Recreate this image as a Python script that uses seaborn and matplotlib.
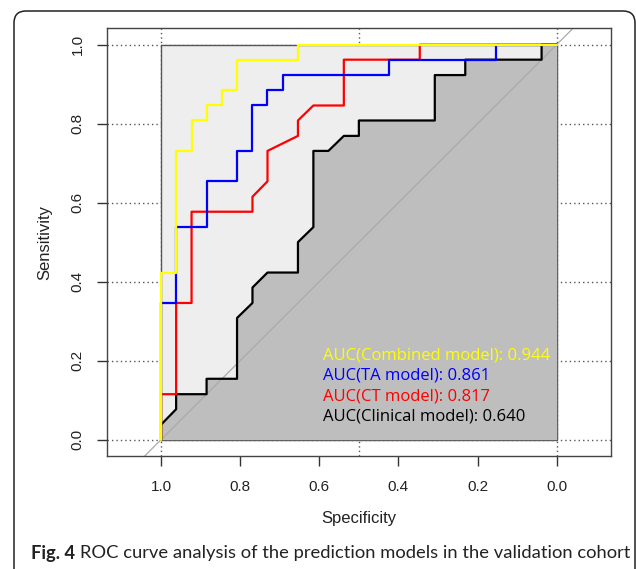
import matplotlib
matplotlib.use('Agg')
import matplotlib.pyplot as plt
import seaborn as sns
import pandas as pd
from matplotlib.patches import FancyBboxPatch
from matplotlib.transforms import IdentityTransform

# ROC vertices (specificity, sensitivity)
combined_spec = [1.000, 1.000, 0.962, 0.962, 0.923, 0.923, 0.885, 0.885, 0.846, 0.846,
                 0.808, 0.808, 0.654, 0.654, 0.000]
combined_sens = [0.000, 0.423, 0.423, 0.731, 0.731, 0.808, 0.808, 0.846, 0.846, 0.885,
                 0.885, 0.962, 0.962, 1.000, 1.000]

ta_spec = [1.000, 1.000, 0.962, 0.962, 0.885, 0.885, 0.808, 0.808, 0.769, 0.769,
           0.731, 0.731, 0.692, 0.692, 0.423, 0.423, 0.154, 0.154, 0.000]
ta_sens = [0.000, 0.346, 0.346, 0.538, 0.538, 0.654, 0.654, 0.731, 0.731, 0.846,
           0.846, 0.885, 0.885, 0.923, 0.923, 0.962, 0.962, 1.000, 1.000]

ct_spec = [1.000, 1.000, 0.962, 0.962, 0.923, 0.923, 0.769, 0.769, 0.731, 0.731,
           0.654, 0.654, 0.615, 0.538, 0.538, 0.346, 0.346, 0.000]
ct_sens = [0.000, 0.115, 0.115, 0.346, 0.346, 0.577, 0.577, 0.615, 0.654, 0.731,
           0.769, 0.808, 0.846, 0.846, 0.962, 0.962, 1.000, 1.000]

clin_spec = [1.000, 1.000, 0.962, 0.962, 0.885, 0.885, 0.808, 0.808, 0.769, 0.769,
             0.731, 0.654, 0.654, 0.615, 0.615, 0.577, 0.538, 0.500, 0.500, 0.308,
             0.308, 0.231, 0.231, 0.038, 0.038, 0.000]
clin_sens = [0.000, 0.038, 0.077, 0.115, 0.115, 0.154, 0.154, 0.308, 0.346, 0.385,
             0.423, 0.423, 0.500, 0.538, 0.731, 0.731, 0.769, 0.769, 0.808, 0.808,
             0.923, 0.923, 0.962, 0.962, 1.000, 1.000]

models = ['Combined model', 'TA model', 'CT model', 'Clinical model']
auc_values = [0.944, 0.861, 0.817, 0.640]
colors = ['#FFFF00', '#0000FF', '#FF0000', '#000000']

tick_values = [1.0, 0.8, 0.6, 0.4, 0.2, 0.0]

frames = []
for name, sp, se in zip(models,
                        [combined_spec, ta_spec, ct_spec, clin_spec],
                        [combined_sens, ta_sens, ct_sens, clin_sens]):
    frames.append(pd.DataFrame({'model': name, 'spec': sp, 'sens': se}))
df = pd.concat(frames, ignore_index=True)

sns.set_style('white')
plt.rcParams['font.family'] = ['Liberation Sans', 'DejaVu Sans']

fig = plt.figure(figsize=(6.36, 5.69), dpi=100)
ax = fig.add_axes([0.1678, 0.1986, 0.7929, 0.7517])

# dotted grid (mostly hidden by the polygons)
grid_kw = dict(color='#555555', lw=1, linestyle=(0, (1, 2.2)), zorder=0.5)
for v in tick_values:
    ax.axhline(v, **grid_kw)
for v in [1.0, 0.5, 0.0]:
    ax.axvline(v, **grid_kw)

# max AUC polygon and AUC polygon of the clinical model
ax.fill_between([1, 0], 0, 1, color='#EEEEEE', edgecolor='#555555', lw=1, zorder=0.8)
ax.fill_between(clin_spec, clin_sens, 0, color='#BEBEBE', lw=0, zorder=0.9)

ax.axline((1, 0), (0, 1), color='#AAAAAA', lw=0.9, zorder=1.5)

sns.lineplot(data=df, x='spec', y='sens', hue='model',
             hue_order=models[::-1], palette=dict(zip(models, colors)),
             sort=False, estimator=None, lw=1.6, legend=False, ax=ax, zorder=2)

ax.set_xlim(1.1375, -0.1375)
ax.set_ylim(-0.0415, 1.0415)

ax.set_xticks(tick_values)
ax.set_xticklabels([f'{v:.1f}' for v in tick_values], fontsize=11)
ax.set_yticks(tick_values)
ax.set_yticklabels([f'{v:.1f}' for v in tick_values], fontsize=11,
                   rotation=90, va='center')
ax.tick_params(axis='both', direction='out', length=7, width=1,
               color='#333333', labelcolor='#222222', pad=9)
ax.tick_params(axis='x', pad=10)
ax.tick_params(bottom=True, left=True)

ax.set_xlabel('Specificity', fontsize=12, color='#222222')
ax.set_ylabel('Sensitivity', fontsize=12, color='#222222')
ax.xaxis.set_label_coords(0.5, -0.147)
ax.xaxis.label.set_va('center')
ax.yaxis.set_label_coords(-0.122, 0.5)
ax.yaxis.label.set_va('center')

for s in ax.spines.values():
    s.set_color('#444444')
    s.set_linewidth(1)

# AUC text
for i, (name, auc, c) in enumerate(zip(models, auc_values, colors)):
    ax.text(0.59, 0.213 - i * 0.0514, f'AUC({name}): {auc:.3f}', color=c,
            fontsize=12, family=['Open Sans', 'DejaVu Sans'],
            ha='left', va='center', zorder=3)

# caption with outer rounded border
border = FancyBboxPatch((14, -30), 621, 569 - 11 + 30,
                        boxstyle='round,pad=0,rounding_size=12',
                        transform=IdentityTransform(), fill=False,
                        edgecolor='#222222', lw=1.1)
fig.add_artist(border)

cap_font = ['Lato', 'DejaVu Sans']
cap_y = 1 - 553 / 569
cap_x0, cap_x1 = 30.7, 631.0
cap_size = 13.5
renderer = fig.canvas.get_renderer()
t1 = fig.text(cap_x0 / 636, cap_y, 'Fig. 4', fontsize=cap_size, weight='bold',
              family=cap_font, va='center', color='#222222')
t2 = fig.text(0, cap_y,
              'ROC curve analysis of the prediction models in the validation cohort',
              fontsize=cap_size, family=cap_font, va='center', color='#222222')
# shrink the caption so that it spans the same width as in the original
for _ in range(3):
    w1 = t1.get_window_extent(renderer=renderer).width
    w2 = t2.get_window_extent(renderer=renderer).width
    total = w1 + 5 + w2
    cap_size = cap_size * (cap_x1 - cap_x0) / total
    t1.set_fontsize(cap_size)
    t2.set_fontsize(cap_size)
w1 = t1.get_window_extent(renderer=renderer).width
t2.set_x((cap_x0 + w1 + 5) / 636)

fig.savefig('out.png', dpi=100)
plt.close(fig)
